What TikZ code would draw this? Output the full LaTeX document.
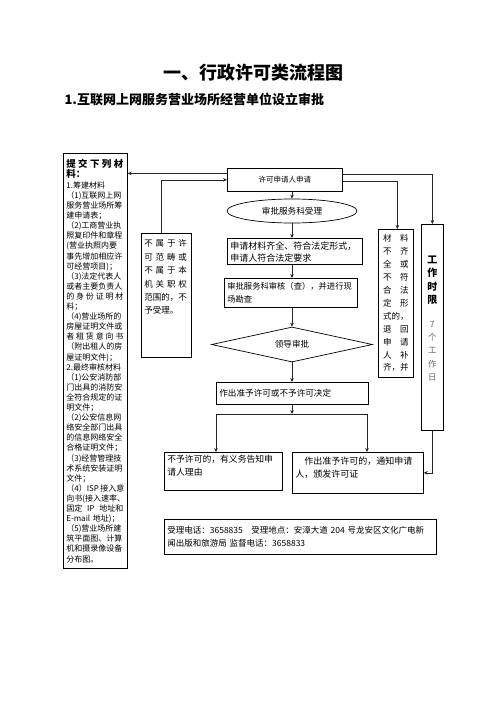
\documentclass[tikz,border=0pt]{standalone}
\usepackage{fontspec}
\setmainfont{Noto Sans CJK SC}
\usepackage{xcolor}
\usepackage{tikz}
\usetikzlibrary{
    arrows.meta,
    shapes.geometric
}
\tikzstyle{arrow}=[line width=0.6pt,-{Stealth[length=4pt,width=3.6pt]},draw=black!85]
\tikzstyle{link}=[line width=0.6pt,draw=black!85]
\newcommand{\spr}[2]{\makebox[#1][s]{#2}}

\begin{document}
\begin{tikzpicture}[
    x=1pt, y=-1pt,
    every node/.style={font=\fontsize{8.6}{12.8}\selectfont},
    box/.style={
        rectangle,
        draw=black,
        line width=0.7pt,
        inner sep=3pt,
        anchor=north west,
        align=left
    },
    oval/.style={
        ellipse,
        draw=black,
        line width=0.7pt,
        inner sep=0pt,
        minimum width=130pt,
        minimum height=24pt
    },
    gate/.style={
        diamond,
        draw=black,
        line width=0.7pt,
        inner sep=0pt,
        aspect=4.6,
        minimum width=161pt,
        minimum height=35pt
    }
]
\useasboundingbox (0,0) rectangle (496,702);

% titles
\node[font=\fontsize{18}{20}\selectfont\bfseries] (title) at (253.5,73) {一、行政许可类流程图};
\node[font=\fontsize{13}{15}\selectfont\bfseries,anchor=west] (sub) at (61,100) {1.互联网上网服务营业场所经营单位设立审批};

% materials list
\node[box,minimum width=64pt,minimum height=415pt,text width=58pt,
      font=\fontsize{8}{10.1}\selectfont] (mat) at (63,153) {%
{\fontsize{9.5}{10.1}\selectfont\bfseries\spr{57pt}{提\hfill 交\hfill 下\hfill 列\hfill 材}\\料：}\\[1pt]
1.筹建材料\\
（1)互联网上网\\
服务营业场所筹\\
建申请表；\\
（2)工商营业执\\
照复印件和章程\\
(营业执照内要\\
事先增加相应许\\
可经营项目)；\\
（3)法定代表人\\
或者主要负责人\\
\spr{57pt}{的\hfill 身\hfill 份\hfill 证\hfill 明\hfill 材}\\
料；\\
（4)营业场所的\\
房屋证明文件或\\
\spr{57pt}{者\hfill 租\hfill 赁\hfill 意\hfill 向\hfill 书}\\
（附出租人的房\\
屋证明文件)；\\
2.最终审核材料\\
（1)公安消防部\\
门出具的消防安\\
全符合规定的证\\
明文件；\\
（2)公安信息网\\
络安全部门出具\\
的信息网络安全\\
合格证明文件；\\
（3)经营管理技\\
术系统安装证明\\
文件；\\
\mbox{（4）ISP\hspace{1.5pt}接入意}\\
向书(接入速率、\\
\spr{57pt}{固定\hfill IP\hfill 地址和}\\
E-mail 地址)；\\
（5)营业场所建\\
筑平面图、计算\\
机和摄录像设备\\
分布图。};

% main column
\node[box,align=center,minimum width=115pt,minimum height=23pt,
      font=\fontsize{7.5}{9}\selectfont] (app) at (227,168) {许可申请人申请};
\node[oval] (accept) at (292,211) {审批服务科受理};
\node[box,minimum width=135pt,minimum height=26pt,text width=129pt,
      font=\fontsize{9}{12}\selectfont] (check) at (227,238) {申请材料齐全、符合法定形式，\\申请人符合法定要求};
\node[box,minimum width=133pt,minimum height=29pt,text width=127pt,
      font=\fontsize{8.3}{12.4}\selectfont] (review) at (224,278) {审批服务科审核（查），并进行现\\场勘查};
\node[gate] (lead) at (292,344.5) {领导审批};
\node[box,minimum width=152pt,minimum height=22pt,text width=146pt] (decide) at (216,382) {作出准予许可或不予许可决定};
\node[box,minimum width=118pt,minimum height=38pt,text width=112pt,
      font=\fontsize{8.8}{13}\selectfont] (deny) at (164,452) {不予许可的，有义务告知申\\请人理由\\[-1pt]\mbox{}};
\node[box,minimum width=131pt,minimum height=41pt,text width=125pt,
      font=\fontsize{9}{13}\selectfont] (grant) at (292,452) {\hspace*{1em}作出准予许可的，通知申请\\人，颁发许可证\\[-1pt]\mbox{}};
\node[box,minimum width=272pt,minimum height=35pt,text width=266pt,
      font=\fontsize{8.5}{13}\selectfont] (info) at (164,519) {受理电话：3658835\quad 受理地点：安漳大道 204 号龙安区文化广电新\\闻出版和旅游局 监督电话：3658833};

% side boxes
\node[box,minimum width=48pt,minimum height=124pt,text width=44pt,
      font=\fontsize{8.5}{13.4}\selectfont] (outside) at (141,233) {%
\spr{42.5pt}{不\hfill 属\hfill 于\hfill 许}\\
\spr{42.5pt}{可\hfill 范\hfill 畴\hfill 或}\\
\spr{42.5pt}{不\hfill 属\hfill 于\hfill 本}\\
\spr{42.5pt}{机\hfill 关\hfill 职\hfill 权}\\
范围的，不\\
予受理。\\[23.6pt]\mbox{}};
\node[box,align=center,minimum width=35pt,minimum height=148pt,text width=29pt,
      font=\fontsize{8.5}{12.9}\selectfont] (lack) at (378,229) {%
\spr{25.5pt}{材\hfill 料}\\
\spr{25.5pt}{不\hfill 齐}\\
\spr{25.5pt}{全\hfill 或}\\
\spr{25.5pt}{不\hfill 符}\\
\spr{25.5pt}{合\hfill 法}\\
\spr{25.5pt}{定\hfill 形}\\
式的，\\
\spr{25.5pt}{退\hfill 回}\\
\spr{25.5pt}{申\hfill 请}\\
\spr{25.5pt}{人\hfill 补}\\
齐，并};
\node[box,align=center,minimum width=22pt,minimum height=206pt,text width=16pt,
      font=\fontsize{8.5}{13.2}\selectfont] (limit) at (421,224) {%
{\fontsize{10}{13.2}\selectfont\bfseries 工\\作\\时\\限}\\[11pt]
{\color{black!60}7\\个\\工\\作\\日}\\[5pt]\mbox{}};

% connectors
\draw[arrow] ([yshift=6.5pt]app.west) -- ([yshift=6.5pt]app.west -| mat.east);
\draw[arrow] ([xshift=-5pt]outside.north) |- (app.west);
\draw[arrow] ([yshift=5.5pt]app.east) -| (limit.north);
\draw[arrow] ([yshift=-1.5pt]app.east) -| ([xshift=1.5pt]lack.north);
\draw[arrow] (accept.north |- app.south) -- (accept.north);
\draw[arrow] (accept.south) -- (accept.south |- check.north);
\draw[arrow] (accept.south |- check.south) -- (accept.south |- review.north);
\draw[arrow] (lead.north |- review.south) -- (lead.north);
\draw[arrow] (lead.south) -- (lead.south |- decide.north);
\coordinate (splitl) at (216,414);
\coordinate (splitr) at (367,414);
\draw[arrow] (lead.south |- decide.south) -- (lead.south |- splitl);
\draw[link] (splitl) -- (splitr);
\draw[arrow] (splitl) -- (splitl |- deny.north);
\draw[arrow] (splitr) -- (splitr |- grant.north);
\draw[arrow] (limit.south) |- (grant.east);
\end{tikzpicture}
\end{document}
